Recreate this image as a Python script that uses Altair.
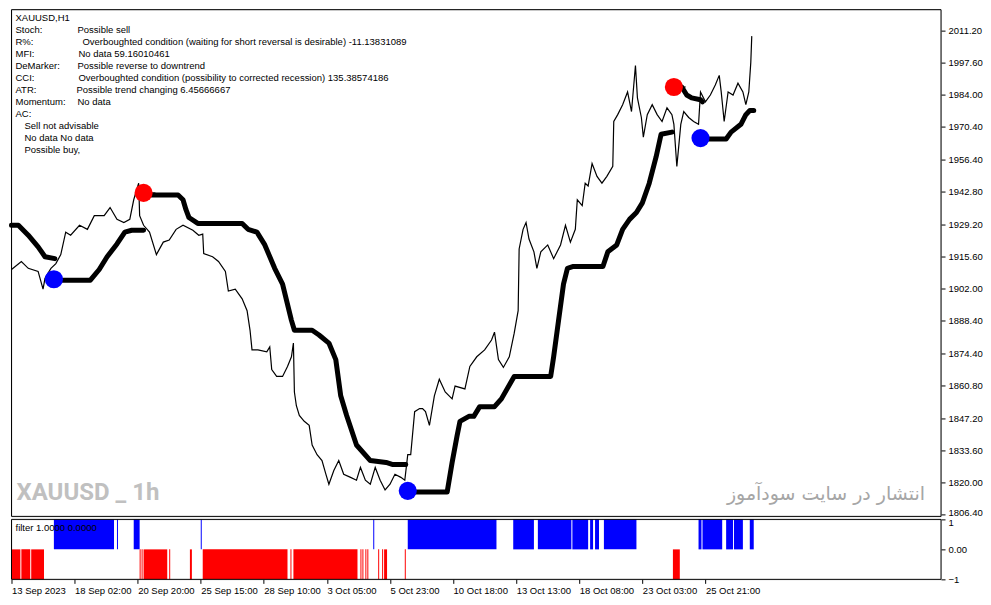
import json
import altair as alt
import pandas as pd

# ---------------- data ----------------
price_bar = [0, 10, 17, 27, 32, 34, 40, 45, 50, 55,
             60, 69, 77, 84, 94, 100, 107, 114, 120, 124,
             129, 130, 134, 140, 147, 154, 160, 167, 174, 184,
             190, 194, 195, 204, 210, 217, 220, 227, 234, 239,
             242, 244, 250, 259, 262, 264, 269, 275, 280, 284,
             286, 287, 289, 292, 297, 302, 305, 310, 315, 319,
             322, 327, 332, 337, 344, 350, 354, 359, 364, 369,
             374, 379, 384, 389, 395, 399, 402, 405, 409, 414,
             417, 420, 424, 429, 434, 440, 447, 450, 460, 465,
             472, 480, 487, 490, 494, 499, 505, 510, 514, 515,
             519, 522, 525, 530, 533, 537, 544, 550, 557, 562,
             567, 572, 574, 579, 582, 585, 589, 594, 599, 604,
             610, 611, 615, 620, 625, 629, 633, 635, 639, 641,
             645, 650, 655, 660, 665, 670, 672, 675, 679, 682,
             687, 692, 697, 699, 704, 709, 714, 718, 720, 723,
             727, 732, 737, 742, 745, 748, 750, 751]
price_close = [1910.0, 1913.4, 1910.5, 1909.2, 1901.7, 1906.3, 1910.5, 1912.5, 1916.3, 1925.8,
               1924.5, 1928.7, 1927.0, 1932.8, 1932.8, 1936.2, 1931.2, 1929.9, 1931.2, 1939.5,
               1946.5, 1932.8, 1928.7, 1925.8, 1916.3, 1921.6, 1922.5, 1927.0, 1928.7, 1926.6,
               1924.5, 1925.0, 1916.7, 1915.4, 1913.4, 1909.2, 1900.9, 1901.7, 1897.6, 1892.6,
               1884.3, 1876.0, 1876.0, 1875.2, 1877.3, 1867.7, 1864.8, 1864.8, 1869.0, 1873.1,
               1878.9, 1858.2, 1852.4, 1848.3, 1845.8, 1844.1, 1835.8, 1831.7, 1829.2, 1823.4,
               1819.2, 1825.0, 1829.2, 1823.4, 1822.1, 1820.9, 1826.3, 1820.9, 1819.2, 1826.3,
               1820.9, 1816.8, 1819.2, 1823.4, 1822.1, 1820.9, 1831.7, 1831.7, 1849.9, 1851.2,
               1851.2, 1849.9, 1844.1, 1856.6, 1863.6, 1858.2, 1855.3, 1860.7, 1859.5, 1869.0,
               1873.1, 1876.0, 1880.2, 1883.5, 1871.9, 1868.6, 1873.1, 1883.1, 1892.6, 1918.7,
               1927.0, 1929.9, 1922.9, 1917.5, 1910.5, 1917.5, 1920.4, 1914.6, 1920.4, 1928.7,
               1921.6, 1927.0, 1939.5, 1937.0, 1946.5, 1945.3, 1954.8, 1949.4, 1946.5, 1949.4,
               1953.6, 1972.6, 1975.5, 1979.7, 1985.1, 1976.8, 1996.3, 1982.6, 1974.3, 1966.0,
               1975.5, 1979.7, 1975.5, 1972.6, 1978.4, 1975.5, 1971.4, 1953.6, 1971.4, 1976.8,
               1974.3, 1972.6, 1971.4, 1985.1, 1980.9, 1983.8, 1988.0, 1992.1, 1985.1, 1972.6,
               1985.1, 1983.8, 1988.8, 1985.1, 1979.7, 1985.1, 1997.5, 2008.7]

# trailing-stop line, one list pair per unbroken segment
trail1_bar = [0, 7, 17, 27, 34, 44]
trail1_price = [1928.7, 1928.7, 1924.5, 1919.6, 1915.4, 1914.6]
trail2_bar = [44, 80, 89, 97, 107, 115, 122, 134]
trail2_price = [1905.5, 1905.5, 1910.0, 1915.4, 1920.8, 1925.8, 1926.6, 1926.6]
trail3_bar = [134, 169, 174, 177, 180, 189, 234, 240, 249, 257, 267, 275, 284, 287,
              305, 312, 322, 329, 334, 340, 350, 364, 380, 387, 400]
trail3_price = [1941.5, 1941.5, 1939.5, 1935.3, 1932.0, 1929.5, 1929.5, 1927.0, 1925.8,
                1920.4, 1910.5, 1903.8, 1888.5, 1884.3, 1884.3, 1882.3, 1878.9, 1871.9,
                1856.6, 1848.3, 1835.8, 1829.2, 1828.4, 1827.5, 1827.5]
trail4_bar = [402, 442, 447, 452, 455, 464, 469, 475, 490, 497, 510, 547, 550, 555, 560,
              564, 570, 600, 605, 614, 620, 627, 634, 640, 647, 654, 659, 670]
trail4_price = [1815.9, 1815.9, 1828.4, 1839.6, 1845.8, 1847.9, 1847.9, 1852.0, 1852.0,
                1855.3, 1864.8, 1864.8, 1873.1, 1888.5, 1903.8, 1910.5, 1911.3, 1911.3,
                1917.5, 1920.4, 1927.0, 1931.2, 1934.1, 1938.2, 1946.5, 1957.7, 1967.2, 1968.1]
trail5_bar = [672, 680, 685, 690, 699, 701]
trail5_price = [1987.2, 1987.2, 1983.8, 1982.6, 1981.8, 1980.9]
trail6_bar = [699, 725, 730, 740, 745, 749, 753]
trail6_price = [1965.2, 1965.2, 1968.1, 1971.4, 1975.5, 1977.2, 1977.2]

# buy / sell signal dots
signal_bar = [43, 134, 402, 672, 699]
signal_price = [1905.9, 1942.4, 1816.4, 1987.2, 1965.6]
signal_kind = ["buy", "sell", "buy", "sell", "buy"]

# filter histogram (bar ranges, end exclusive)
filter_red_start = [0, 10, 20, 130, 132, 134, 160, 181, 194, 283, 286, 354, 356, 359, 361,
                    372, 376, 378, 399, 671]
filter_red_end = [9, 19, 33, 131, 133, 158, 161, 183, 280, 284, 351, 355, 357, 360, 362,
                  373, 377, 381, 400, 678]
filter_blue_start = [43, 107, 124, 192, 367, 402, 509, 534, 569, 587, 592, 601, 697, 701,
                     725, 733, 749]
filter_blue_end = [104, 108, 130, 193, 368, 492, 530, 568, 585, 590, 596, 634, 700, 721,
                   732, 742, 753]

price_ticks = [2011.20, 1997.60, 1984.00, 1970.40, 1956.40, 1942.80, 1929.20, 1915.60,
               1902.00, 1888.40, 1874.40, 1860.80, 1847.20, 1833.60, 1820.00, 1806.40]
time_tick_bars = [0, 64, 128, 192, 256, 320, 384, 448, 512, 576, 640, 704]
time_tick_labels = ["13 Sep 2023", "18 Sep 02:00", "20 Sep 20:00", "25 Sep 15:00",
                    "28 Sep 10:00", "3 Oct 05:00", "5 Oct 23:00", "10 Oct 18:00",
                    "13 Oct 13:00", "18 Oct 08:00", "23 Oct 03:00", "25 Oct 21:00"]

info_labels = ["XAUUSD,H1", "Stoch:", "R%:", "MFI:", "DeMarker:", "CCI:", "ATR:",
               "Momentum:", "AC:"]
info_values = ["", "Possible sell",
               "Overboughted condition (waiting for short reversal is desirable) -11.13831089",
               "No data 59.16010461", "Possible reverse to downtrend",
               "Overboughted condition (possibility to corrected recession) 135.38574186",
               "Possible trend changing 6.45666667", "No data", ""]
ac_lines = ["Sell not advisable", "No data No data", "Possible buy,"]
filter_caption = "filter 1.0000 0.0000"
watermark_left = "XAUUSD _ 1h"
watermark_right = "انتشار در سایت سودآموز"

# ---------------- layout / style ----------------
W = 930
H_MAIN = 507
H_SUB = 60
X_DOMAIN = [0, 943]
Y_DOMAIN = [1805.6, 2019.9]
FONT = "Liberation Sans"
FS = 9.5
value_x = [66, 66, 71, 67, 66, 67, 65, 66, 66]

xs = alt.Scale(domain=X_DOMAIN, nice=False, zero=False)
ys = alt.Scale(domain=Y_DOMAIN, nice=False, zero=False)

one_row = pd.DataFrame({"k": [0]})


def frame(h):
    """Four black border rules around a panel of height h."""
    base = alt.Chart(one_row).mark_rule(color="black", strokeWidth=1)
    return [
        base.encode(x=alt.value(0), x2=alt.value(W), y=alt.value(0)),
        base.encode(x=alt.value(0), x2=alt.value(W), y=alt.value(h)),
        base.encode(x=alt.value(0), y=alt.value(0), y2=alt.value(h)),
        base.encode(x=alt.value(W), y=alt.value(0), y2=alt.value(h)),
    ]


price_df = pd.DataFrame({"bar": price_bar, "price": price_close})

trail_rows = []
for seg, (b, p) in enumerate([(trail1_bar, trail1_price), (trail2_bar, trail2_price),
                              (trail3_bar, trail3_price), (trail4_bar, trail4_price),
                              (trail5_bar, trail5_price), (trail6_bar, trail6_price)]):
    for bb, pp in zip(b, p):
        trail_rows.append({"seg": seg, "bar": bb, "price": pp})
trail_df = pd.DataFrame(trail_rows)

sig_df = pd.DataFrame({"bar": signal_bar, "price": signal_price, "kind": signal_kind})
sig_df["color"] = sig_df["kind"].map({"buy": "#0000ff", "sell": "#ff0000"})

y_axis = alt.Axis(orient="right", values=price_ticks, format=".2f", grid=False,
                  domain=False, tickSize=4, tickColor="black", labelColor="black",
                  labelFont=FONT, labelFontSize=FS, labelPadding=3, title=None,
                  labelOffset={"condition": {"test": "datum.value < 1810", "value": -2},
                               "value": 0})

price_line = alt.Chart(price_df).mark_line(color="black", strokeWidth=1.2).encode(
    x=alt.X("bar:Q", scale=xs, axis=None),
    y=alt.Y("price:Q", scale=ys, axis=y_axis),
)

trail_line = alt.Chart(trail_df).mark_line(
    color="black", strokeWidth=5, strokeCap="round", strokeJoin="round"
).encode(
    x=alt.X("bar:Q", scale=xs, axis=None),
    y=alt.Y("price:Q", scale=ys, axis=y_axis),
    detail="seg:N",
)

sig_dots = alt.Chart(sig_df).mark_circle(size=330, opacity=1).encode(
    x=alt.X("bar:Q", scale=xs, axis=None),
    y=alt.Y("price:Q", scale=ys, axis=y_axis),
    color=alt.Color("color:N", scale=None),
)

sig_ticks = alt.Chart(sig_df).transform_calculate(bar2="datum.bar + 12").mark_rule(
    color="black", strokeWidth=1
).encode(
    x=alt.X("bar:Q", scale=xs, axis=None),
    x2="bar2:Q",
    y=alt.Y("price:Q", scale=ys, axis=y_axis),
)

info_df = pd.DataFrame({"label": info_labels, "value": info_values,
                        "row": list(range(len(info_labels))), "vx": value_x})
info_lab = alt.Chart(info_df).transform_calculate(py="8.7 + 12 * datum.row").mark_text(
    align="left", baseline="middle", font=FONT, fontSize=FS, color="black"
).encode(x=alt.value(4), y=alt.Y("py:Q", scale=None), text="label:N")
info_val = alt.Chart(info_df).transform_calculate(py="8.7 + 12 * datum.row").mark_text(
    align="left", baseline="middle", font=FONT, fontSize=FS, color="black"
).encode(x=alt.X("vx:Q", scale=None), y=alt.Y("py:Q", scale=None), text="value:N")

ac_df = pd.DataFrame({"t": ac_lines, "row": list(range(len(ac_lines)))})
ac_txt = alt.Chart(ac_df).transform_calculate(py="8.7 + 12 * (datum.row + 9)").mark_text(
    align="left", baseline="middle", font=FONT, fontSize=FS, color="black"
).encode(x=alt.value(13), y=alt.Y("py:Q", scale=None), text="t:N")

wm1 = alt.Chart(pd.DataFrame({"t": [watermark_left]})).mark_text(
    align="left", baseline="middle", font="Roboto", fontWeight="bold",
    fontSize=24, color="#c0c0c0"
).encode(x=alt.value(5), y=alt.value(H_MAIN - 23), text="t:N")

wm2 = alt.Chart(pd.DataFrame({"t": [watermark_right]})).mark_text(
    align="right", baseline="middle", font="DejaVu Sans", fontSize=19, color="#a6a6a6"
).encode(x=alt.value(W - 16), y=alt.value(H_MAIN - 22), text="t:N")

main = alt.layer(
    wm1, wm2, price_line, trail_line, sig_ticks, sig_dots, info_lab, info_val, ac_txt,
    *frame(H_MAIN)
).properties(width=W, height=H_MAIN)

# ---------------- filter panel ----------------
filt_df = pd.concat([
    pd.DataFrame({"start": filter_blue_start, "end": filter_blue_end, "value": 1}),
    pd.DataFrame({"start": filter_red_start, "end": filter_red_end, "value": -1}),
], ignore_index=True)
filt_df["color"] = filt_df["value"].map({1: "#0000ff", -1: "#ff0000"})
filt_df["zero"] = 0

label_expr = json.dumps(time_tick_labels).replace('"', "'") + "[round(datum.value / 64)]"

filt_rect = alt.Chart(filt_df).mark_rect().encode(
    x=alt.X("start:Q", scale=xs, axis=alt.Axis(
        values=time_tick_bars, labelExpr=label_expr, grid=False, domain=False,
        tickSize=4, tickColor="black", labelColor="black", labelFont=FONT,
        labelFontSize=FS, labelAlign="left", labelPadding=2, labelFlush=False,
        labelOverlap=False, labelBound=False, title=None)),
    x2="end:Q",
    y=alt.Y("zero:Q", scale=alt.Scale(domain=[-1, 1], nice=False), axis=alt.Axis(
        orient="right", values=[1, 0, -1],
        labelExpr="datum.value == 0 ? '0.00' : format(datum.value, 'd')",
        grid=False, domain=False, tickSize=4, tickColor="black", labelColor="black",
        labelFont=FONT, labelFontSize=FS, labelPadding=3, title=None,
        labelOffset={"condition": {"test": "datum.value == 1", "value": 3},
                     "value": 0})),
    y2="value:Q",
    color=alt.Color("color:N", scale=None),
)

filt_txt = alt.Chart(pd.DataFrame({"t": [filter_caption]})).mark_text(
    align="left", baseline="middle", font=FONT, fontSize=FS, color="black"
).encode(x=alt.value(4), y=alt.value(9), text="t:N")

sub = alt.layer(filt_rect, filt_txt, *frame(H_SUB)).properties(width=W, height=H_SUB)

chart = alt.vconcat(
    main, sub, spacing=3, bounds="flush",
    padding={"left": 0.5, "top": 0.5, "right": 0, "bottom": 0},
).resolve_scale(
    y="independent"
).configure_view(
    strokeWidth=0
).configure_axis(
    translate=0
).configure(font=FONT)

chart.save("out.html", embed_options={"renderer": "svg", "actions": False})
